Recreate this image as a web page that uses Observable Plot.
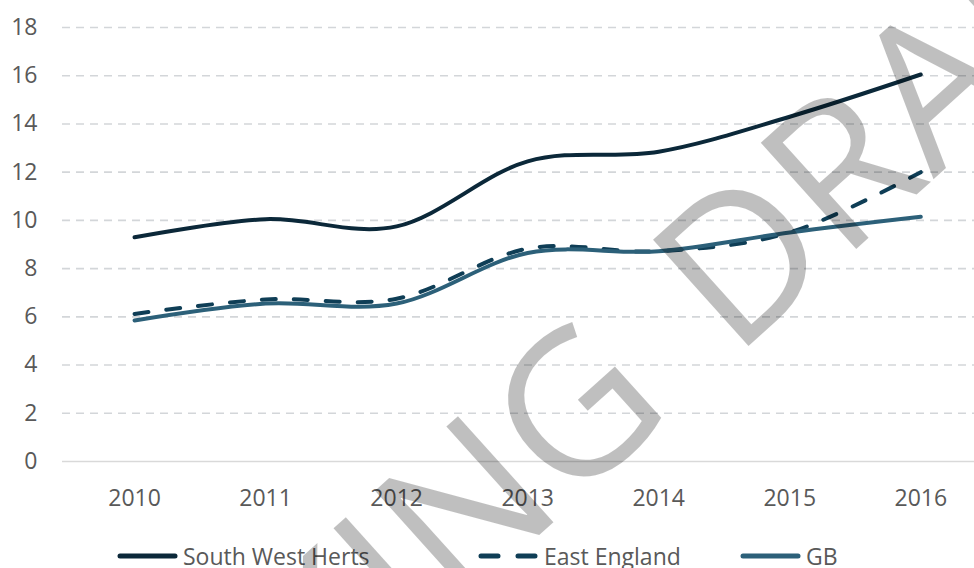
<!DOCTYPE html>
<html>
<head>
<meta charset="utf-8">
<script src="https://cdn.jsdelivr.net/npm/d3@7"></script>
<script src="https://cdn.jsdelivr.net/npm/@observablehq/plot@0.6"></script>
<style>
  html, body { margin: 0; padding: 0; background: #fff; }
  #wrap { position: relative; width: 974px; height: 568px; overflow: hidden; font-family: "Open Sans", sans-serif; }
  #legend { position: absolute; left: 0; top: 520px; width: 974px; height: 48px; }
  .item { position: absolute; top: 23px; display: flex; align-items: center; font-size: 23px; color: #595959; line-height: 26px; }
  .item svg { display: block; margin-right: 4px; }
  #wm { position: absolute; left: 0; top: 0; pointer-events: none; }
</style>
</head>
<body>
<div id="wrap">
  <div id="chart"></div>
  <div id="legend"></div>
</div>
<script>
// ---- data ----
const years = [2010, 2011, 2012, 2013, 2014, 2015, 2016];
const southWestHerts = [9.3, 10.05, 9.75, 12.45, 12.85, 14.3, 16.05];
const eastEngland = [6.12, 6.72, 6.75, 8.83, 8.72, 9.5, 12.0];
const gb = [5.85, 6.55, 6.55, 8.65, 8.72, 9.5, 10.15];
const yTicks = [0, 2, 4, 6, 8, 10, 12, 14, 16, 18];
const seriesNames = ["South West Herts", "East England", "GB"];
const watermark = ["WORKING", "DRAFT"];

const colors = {"South West Herts": "#0b2839", "East England": "#0f3e56", "GB": "#2c6079"};
const dashes = {"South West Herts": null, "East England": "14,18", "GB": null};

const rows = [];
[southWestHerts, eastEngland, gb].forEach((vals, i) => {
  vals.forEach((v, j) => rows.push({series: seriesNames[i], year: years[j], value: v}));
});

const font = "'Open Sans', sans-serif";

const chart = Plot.plot({
  width: 974,
  height: 520,
  marginLeft: 62,
  marginRight: 0,
  marginTop: 27,
  marginBottom: 59,
  style: {fontFamily: font, fontSize: "23px", color: "#595959", background: "transparent"},
  x: {domain: [2009.45, 2016.41], label: null},
  y: {domain: [0, 18], label: null},
  marks: [
    Plot.ruleY(yTicks.filter(d => d > 0), {stroke: "#d3d6d9", strokeWidth: 1.6, strokeDasharray: "8,6"}),
    Plot.ruleY([0], {stroke: "#d9d9d9", strokeWidth: 1.6}),
    ...seriesNames.map(name => Plot.line(rows.filter(r => r.series === name), {
      x: "year", y: "value",
      stroke: colors[name],
      strokeWidth: 4,
      strokeDasharray: dashes[name],
      strokeLinecap: "round",
      curve: "cardinal"
    })),
    Plot.axisX({ticks: years, tickFormat: d => String(d), tickSize: 0, tickPadding: 28, fill: "#595959"}),
    Plot.axisY({ticks: yTicks, tickSize: 0, tickPadding: 25, fill: "#595959"})
  ]
});
document.getElementById("chart").appendChild(chart);

// ---- legend ----
const legendPos = {"South West Herts": 117, "East England": 478, "GB": 740};
const legend = document.getElementById("legend");
seriesNames.forEach(name => {
  const item = document.createElement("div");
  item.className = "item";
  item.style.left = legendPos[name] + "px";
  const ns = "http://www.w3.org/2000/svg";
  const sw = document.createElementNS(ns, "svg");
  sw.setAttribute("width", 62); sw.setAttribute("height", 10);
  const ln = document.createElementNS(ns, "line");
  ln.setAttribute("x1", 3); ln.setAttribute("x2", 58); ln.setAttribute("y1", 5); ln.setAttribute("y2", 5);
  ln.setAttribute("stroke", colors[name]); ln.setAttribute("stroke-width", 5);
  ln.setAttribute("stroke-linecap", "round");
  if (dashes[name]) ln.setAttribute("stroke-dasharray", "17,20");
  sw.appendChild(ln);
  item.appendChild(sw);
  const t = document.createElement("span");
  t.textContent = name;
  item.appendChild(t);
  legend.appendChild(item);
});

// ---- watermark overlay ----
const ns = "http://www.w3.org/2000/svg";
const wm = document.createElementNS(ns, "svg");
wm.setAttribute("id", "wm");
wm.setAttribute("width", 974); wm.setAttribute("height", 568);
const ang = -42;
const placements = [
  {text: watermark[0], x: 676, y: 412, anchor: "end"},
  {text: watermark[1], x: 734, y: 359, anchor: "start"}
];
placements.forEach(p => {
  const t = document.createElementNS(ns, "text");
  t.setAttribute("transform", `translate(${p.x},${p.y}) rotate(${ang})`);
  t.setAttribute("text-anchor", p.anchor);
  t.setAttribute("font-family", font);
  t.setAttribute("font-size", 200);
  t.setAttribute("font-weight", 400);
  t.setAttribute("fill", "#000");
  t.setAttribute("fill-opacity", 0.25);
  t.textContent = p.text;
  wm.appendChild(t);
});
document.getElementById("wrap").appendChild(wm);
</script>
</body>
</html>
